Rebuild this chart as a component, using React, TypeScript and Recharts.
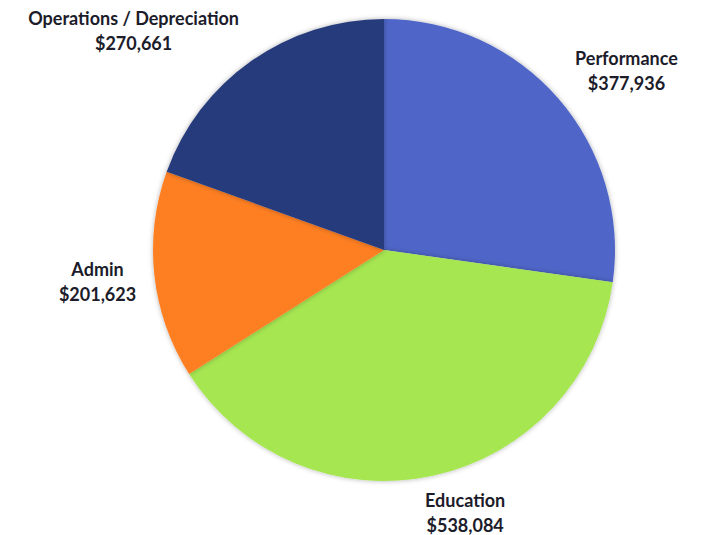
import React from 'react';
import { PieChart, Pie, Cell } from 'recharts';

const CATEGORIES = ['Performance', 'Education', 'Admin', 'Operations / Depreciation'];
const AMOUNTS = [377936, 538084, 201623, 270661];
const COLORS = ['#4F66C8', '#A6E651', '#FE7F22', '#283A7B'];

const chartData = CATEGORIES.map((name, i) => ({ name, value: AMOUNTS[i] }));

const RADIAN = Math.PI / 180;
const LINE_H = 25;
// small hand nudges so labels sit where the original put them
const LABEL_NUDGE = [
    [18, 1],
    [20, -5],
    [-4, 2],
    [-44, 5],
];

const fmt = (v: number) => '$' + v.toLocaleString('en-US');

const renderLabel = (props: any) => {
    const { cx, cy, midAngle, outerRadius, name, value, index } = props;
    const cos = Math.cos(-midAngle * RADIAN);
    const sin = Math.sin(-midAngle * RADIAN);
    const r = outerRadius + 18;
    const halfW = Math.max(name.length, 8) * 4.4;
    const [nx, ny] = LABEL_NUDGE[index] || [0, 0];
    const x = cx + r * cos + cos * halfW + nx;
    const y = cy + r * sin + sin * LINE_H + ny;
    return (
        <text
            x={x}
            y={y}
            textAnchor="middle"
            fill="#1c1c2a"
            fontFamily="Lato, 'Open Sans', sans-serif"
            fontWeight="bold"
            fontSize={18}
        >
            <tspan x={x} dy={-6}>{name}</tspan>
            <tspan x={x} dy={LINE_H}>{fmt(value)}</tspan>
        </text>
    );
};

export default function App() {
    return (
        <div style={{ position: 'absolute', left: 0, top: 0, width: 709, height: 535, background: '#fff' }}>
            <PieChart width={709} height={535}>
                <defs>
                    <filter id="pieShadow" x="-10%" y="-10%" width="120%" height="120%">
                        <feDropShadow dx="0" dy="0" stdDeviation="2.5" floodColor="#000" floodOpacity="0.3" />
                    </filter>
                </defs>
                <Pie
                    data={chartData}
                    dataKey="value"
                    nameKey="name"
                    cx={379}
                    cy={245}
                    outerRadius={231}
                    startAngle={90}
                    endAngle={-270}
                    stroke="none"
                    label={renderLabel}
                    labelLine={false}
                    isAnimationActive={false}
                    style={{ filter: 'url(#pieShadow)' }}
                >
                    {chartData.map((_entry, index) => (
                        <Cell key={`cell-${index}`} fill={COLORS[index % COLORS.length]} />
                    ))}
                </Pie>
            </PieChart>
        </div>
    );
}
